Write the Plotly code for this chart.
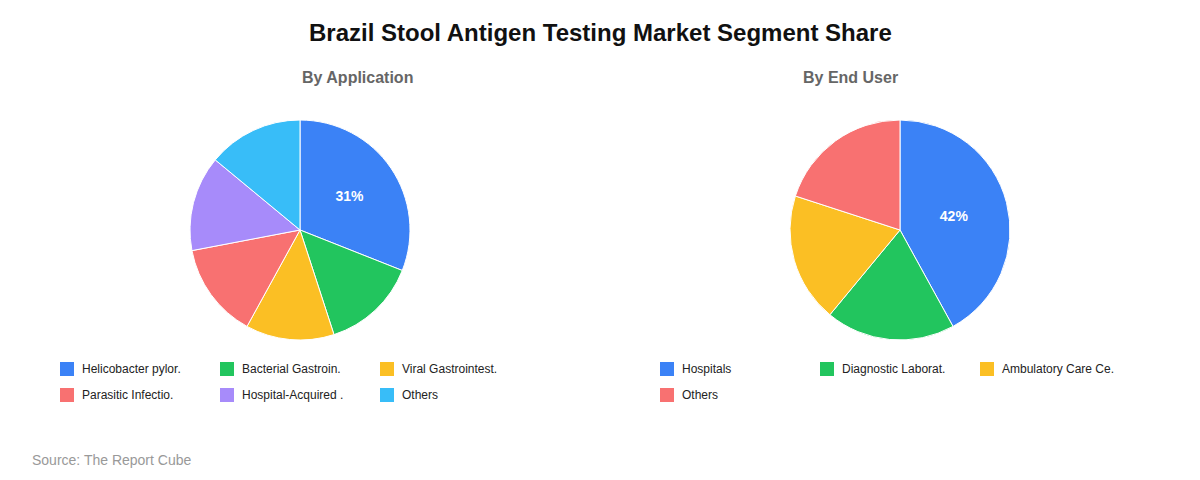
import plotly.graph_objects as go

app_labels = ["Helicobacter pylor.", "Bacterial Gastroin.", "Viral Gastrointest.", "Parasitic Infectio.", "Hospital-Acquired .", "Others"]
app_values = [31, 14, 13, 14, 14, 14]
app_colors = ["#3b82f6", "#22c55e", "#fbbf24", "#f87171", "#a78bfa", "#38bdf8"]

end_labels = ["Hospitals", "Diagnostic Laborat.", "Ambulatory Care Ce.", "Others"]
end_values = [42, 19, 19, 20]
end_colors = ["#3b82f6", "#22c55e", "#fbbf24", "#f87171"]

W, H = 1200, 480

def txt(vals):
    m = max(vals); s = sum(vals)
    return [f"<b>{round(v*100/s)}%</b>" if v == m else "" for v in vals]

fig = go.Figure()
for labels, values, colors, dom in [(app_labels, app_values, app_colors, [190/W, 410/W]),
                                    (end_labels, end_values, end_colors, [790/W, 1010/W])]:
    fig.add_trace(go.Pie(labels=labels, values=values, sort=False, direction="clockwise",
                         rotation=0, marker=dict(colors=colors, line=dict(color="white", width=1)),
                         text=txt(values), textinfo="text", textposition="inside",
                         textfont=dict(color="white", size=14, family="Liberation Sans"),
                         insidetextorientation="horizontal", showlegend=False,
                         domain=dict(x=dom, y=[1-340/H, 1-120/H])))

shapes, annotations = [], []
for labels, colors, x0 in [(app_labels, app_colors, 60), (end_labels, end_colors, 660)]:
    for i, (lab, col) in enumerate(zip(labels, colors)):
        cx = x0 + 160 * (i % 3)
        cy = 369 + 26 * (i // 3)
        shapes.append(dict(type="rect", xref="paper", yref="paper", x0=cx/W, x1=(cx+14)/W,
                           y0=1-(cy+7)/H, y1=1-(cy-7)/H, fillcolor=col, line=dict(width=0)))
        annotations.append(dict(text=lab, x=(cx+20)/W, y=1-cy/H, xref="paper", yref="paper",
                                xanchor="left", yanchor="middle", showarrow=False,
                                font=dict(size=12, color="#222")))

annotations += [
    dict(text="<b>Brazil Stool Antigen Testing Market Segment Share</b>", x=0.5, y=1-33/H,
         xref="paper", yref="paper", yanchor="middle", showarrow=False, font=dict(size=24, color="#111")),
    dict(text="<b>By Application</b>", x=300/W, y=1-77/H, xref="paper", yref="paper", yanchor="middle",
         showarrow=False, font=dict(size=16, color="#666")),
    dict(text="<b>By End User</b>", x=900/W, y=1-77/H, xref="paper", yref="paper", yanchor="middle",
         showarrow=False, font=dict(size=16, color="#666")),
    dict(text="Source: The Report Cube", x=30/W, y=1-460/H, xref="paper", yref="paper", yanchor="middle",
         xanchor="left", showarrow=False, font=dict(size=14, color="#999")),
]

fig.update_layout(
    width=W, height=H, margin=dict(l=0, r=0, t=0, b=0, autoexpand=False),
    paper_bgcolor="white", plot_bgcolor="white", showlegend=False,
    font=dict(family="Liberation Sans"),
    shapes=shapes, annotations=annotations,
)
fig.write_html("out.html", config={"displayModeBar": False},
               post_script="document.body.style.margin='0';document.body.style.overflow='hidden';")
